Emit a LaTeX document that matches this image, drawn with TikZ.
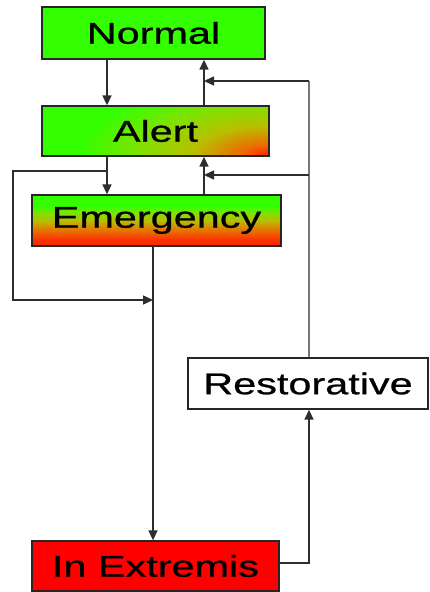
\documentclass[tikz,border=0pt]{standalone}
\usepackage{fontspec}
\newfontfamily\boxfont[FakeStretch=1.38,FakeBold=0.8]{Liberation Sans}
\usetikzlibrary{arrows.meta,shadings}
\definecolor{boxgreen}{RGB}{51,255,0}
\definecolor{boxred}{RGB}{255,30,0}
\definecolor{sOrange}{RGB}{235,110,0}
\definecolor{sOlive}{RGB}{185,190,0}
\definecolor{sLime}{RGB}{130,225,0}
\definecolor{linegray}{RGB}{120,120,120}
\definecolor{darkline}{RGB}{45,45,45}
\pgfdeclareradialshading{alertcorner}{\pgfpoint{0bp}{0bp}}{%
  color(0bp)=(boxred); color(4bp)=(sOrange); color(10bp)=(sOlive);
  color(17bp)=(sLime); color(25bp)=(boxgreen); color(50bp)=(boxgreen)}
\pgfdeclareverticalshading{emergshade}{100bp}{%
  color(0bp)=(boxred); color(25bp)=(boxred); color(31bp)=(boxred!75!sOrange);
  color(40bp)=(sOrange); color(50bp)=(sOlive); color(57bp)=(sLime);
  color(64bp)=(boxgreen); color(100bp)=(boxgreen)}
\tikzset{
  statebox/.style={draw=black!85,line width=1.3pt,inner sep=0pt,
    font=\boxfont\fontsize{30}{36}\selectfont,text=black},
  arr/.style={line width=1.5pt,draw=darkline,-{Triangle[length=10pt,width=9pt]}},
  grayline/.style={line width=1.6pt,draw=linegray},
}
\begin{document}
\begin{tikzpicture}[x=1pt,y=-1pt]
\useasboundingbox (0,0) rectangle (429,592);
% nodes
\node[statebox,fill=boxgreen,minimum width=223pt,minimum height=52pt] (normal) at (153.5,33) {Normal};
\begin{scope}
  \clip (42,106) rectangle (269,156);
  \fill[boxgreen] (42,106) rectangle (269,156);
  \shade[shading=alertcorner] (269,156) ellipse [x radius=190, y radius=75];
\end{scope}
\node[statebox,minimum width=227pt,minimum height=50pt] (alert) at (155.5,131) {Alert};
\shade[shading=emergshade] (32,195) rectangle (281,246);
\node[statebox,minimum width=249pt,minimum height=51pt] (emergency) at (156.5,220.5) {Emergency};
\node[statebox,fill=red,minimum width=247pt,minimum height=50pt] (extremis) at (155.5,566) {In Extremis};
\node[statebox,fill=white,minimum width=240pt,minimum height=51pt] (restorative) at (308,383.5) {Restorative};
% guide coordinates
\coordinate (xL) at (107,0);
\coordinate (xM) at (204,0);
\coordinate (xE) at (153,0);
\coordinate (xR) at (309,0);
\coordinate (rTop) at (309,81);
\coordinate (rMid) at (309,175);
\coordinate (loopStart) at (107,171);
\coordinate (loopTL) at (13,171);
\coordinate (loopBL) at (13,300);
\coordinate (loopEnd) at (153,300);
\coordinate (exOut) at (279,563);
\coordinate (exCorner) at (309,563);
% connectors
\draw[arr] (normal.south -| xL) -- (alert.north -| xL);
\draw[arr] (alert.north -| xM) -- (normal.south -| xM);
\draw[arr] (alert.south -| xL) -- (emergency.north -| xL);
\draw[arr] (emergency.north -| xM) -- (alert.south -| xM);
\draw[grayline] (restorative.north -| xR) -- (rTop);
\draw[arr] (rTop) -- (rTop -| xM);
\draw[arr] (rMid) -- (rMid -| xM);
\draw[arr] (loopStart) -- (loopTL) -- (loopBL) -- (loopEnd);
\draw[arr] (emergency.south -| xE) -- (extremis.north -| xE);
\draw[arr] (exOut) -- (exCorner) -- (restorative.south -| xR);
\end{tikzpicture}
\end{document}
